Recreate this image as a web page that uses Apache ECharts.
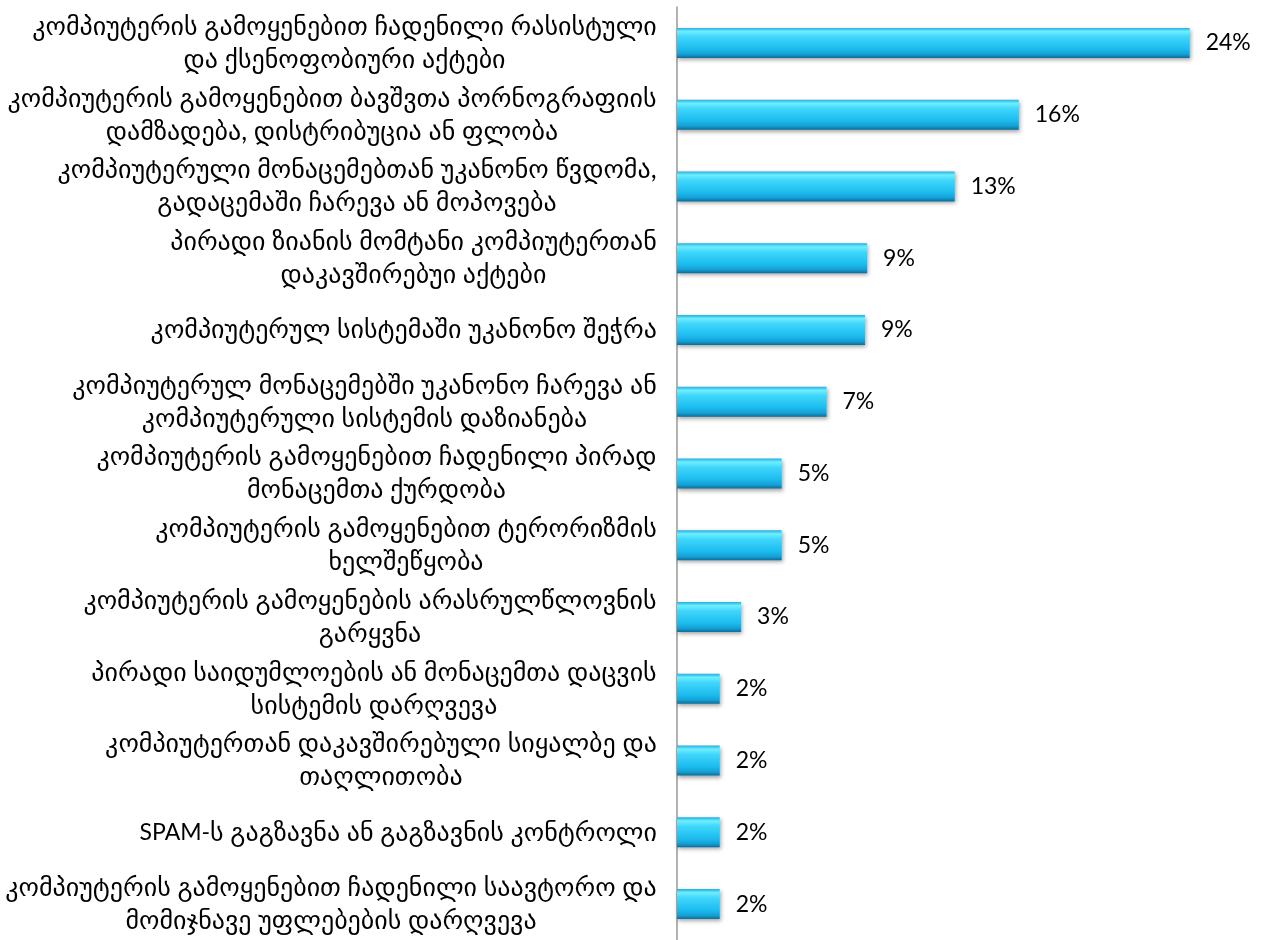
<!DOCTYPE html>
<html><head><meta charset="utf-8">
<script src="https://cdn.jsdelivr.net/npm/echarts@6/dist/echarts.min.js"></script>
<style>html,body{margin:0;padding:0;background:#fff}#c{width:1261px;height:940px}</style>
</head><body><div id="c"></div>
<script>
const categories = [
  "კომპიუტერის გამოყენებით ჩადენილი რასისტული\nდა ქსენოფობიური აქტები",
  "კომპიუტერის გამოყენებით ბავშვთა პორნოგრაფიის\nდამზადება, დისტრიბუცია ან ფლობა",
  "კომპიუტერული მონაცემებთან უკანონო წვდომა,\nგადაცემაში ჩარევა ან მოპოვება",
  "პირადი ზიანის მომტანი კომპიუტერთან\nდაკავშირებუი აქტები",
  "კომპიუტერულ სისტემაში უკანონო შეჭრა",
  "კომპიუტერულ მონაცემებში უკანონო ჩარევა ან\nკომპიუტერული სისტემის დაზიანება",
  "კომპიუტერის გამოყენებით ჩადენილი პირად\nმონაცემთა ქურდობა",
  "კომპიუტერის გამოყენებით ტერორიზმის\nხელშეწყობა",
  "კომპიუტერის გამოყენების არასრულწლოვნის\nგარყვნა",
  "პირადი საიდუმლოების ან მონაცემთა დაცვის\nსისტემის დარღვევა",
  "კომპიუტერთან დაკავშირებული სიყალბე და\nთაღლითობა",
  "SPAM-ს გაგზავნა ან გაგზავნის კონტროლი",
  "კომპიუტერის გამოყენებით ჩადენილი საავტორო და\nმომიჯნავე უფლებების დარღვევა"
];
const values = [24, 16, 13, 8.9, 8.8, 7, 4.9, 4.9, 3, 2, 2, 2, 2];
const valueLabels = ["24%","16%","13%","9%","9%","7%","5%","5%","3%","2%","2%","2%","2%"];

const FONT = 'Lato, "DejaVu Sans", sans-serif';
const FS = 26;
const LH = 33;
const cv = document.createElement('canvas').getContext('2d');
cv.font = FS + 'px ' + FONT;
const rich = {
  g: {fontSize: FS, lineHeight: LH, fontFamily: FONT, color: '#000'},
  s: {fontSize: 23, lineHeight: LH, fontFamily: FONT, color: '#000'}
};
categories.forEach((c, i) => {
  const w = Math.max(...c.split('\n').map(l => cv.measureText(l).width));
  rich['w' + i] = {width: Math.ceil(w), align: 'center', fontSize: FS, lineHeight: LH, fontFamily: FONT, color: '#000'};
});

function fmt(v, i) {
  if (v.indexOf('\n') < 0) {
    return v.split(/([A-Za-z\-]+)/).filter(t => t.length)
      .map(t => /^[A-Za-z\-]+$/.test(t) ? '{s|' + t + '}' : '{g|' + t + '}').join('');
  }
  return v.split('\n').map(l => '{w' + i + '|' + l + '}').join('\n');
}

const chart = echarts.init(document.getElementById('c'));
chart.setOption({
  animation: false,
  grid: {left: 677, right: 50, top: 7, bottom: 0, containLabel: false},
  xAxis: {type: 'value', min: 0, max: 25, show: false},
  yAxis: {
    type: 'category', inverse: true, data: categories,
    axisLine: {show: true, lineStyle: {color: '#999', width: 1.5}},
    axisTick: {show: false},
    axisLabel: {margin: 20, formatter: fmt, rich: rich}
  },
  series: [{
    type: 'bar', data: values, barWidth: 30,
    itemStyle: {
      color: new echarts.graphic.LinearGradient(0, 0, 0, 1, [
        {offset: 0, color: '#22aee0'},
        {offset: 0.12, color: '#6eeeff'},
        {offset: 0.3, color: '#3fd6fb'},
        {offset: 0.7, color: '#1cbcef'},
        {offset: 0.88, color: '#159fd3'},
        {offset: 1, color: '#0b6d97'}
      ]),
      shadowColor: 'rgba(0,0,0,0.35)', shadowBlur: 4, shadowOffsetY: 2, shadowOffsetX: 1
    },
    label: {
      show: true, position: 'right', distance: 16,
      formatter: p => valueLabels[p.dataIndex],
      fontSize: 23, fontFamily: FONT, color: '#000'
    }
  }]
});
</script></body></html>
